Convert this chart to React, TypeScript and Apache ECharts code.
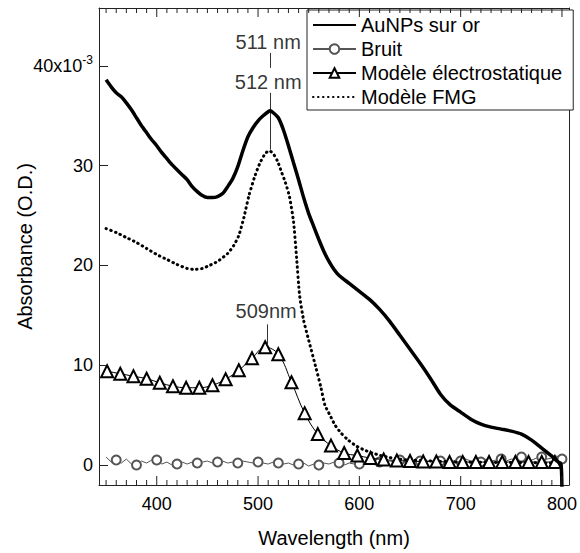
import React, { useEffect, useRef } from 'react';
import * as echarts from 'echarts';

const FONT = '"Liberation Sans", Arial, Helvetica, sans-serif';
const AXIS_COLOR = '#222';

// Tick values
const xMajorTicks = [400, 500, 600, 700, 800];
const xMinorTicks = [350, 360, 370, 380, 390, 410, 420, 430, 440, 450, 460, 470, 480, 490, 510, 520, 530, 540, 550, 560, 570, 580, 590, 610, 620, 630, 640, 650, 660, 670, 680, 690, 710, 720, 730, 740, 750, 760, 770, 780, 790];
const yTicks = [0, 10, 20, 30, 40];

// AuNPs sur or (x 10^-3)
const auWavelength = [350, 355, 360, 365, 370, 375, 380, 385, 390, 395, 400, 405, 410, 415, 420, 425, 430, 435, 440, 445, 450, 455, 460, 465, 470, 475, 480, 485, 490, 495, 500, 505, 510, 512, 515, 520, 525, 530, 535, 540, 545, 550, 555, 560, 565, 570, 575, 580, 590, 600, 610, 620, 630, 640, 650, 660, 670, 680, 690, 700, 710, 720, 730, 740, 750, 760, 770, 780, 790, 795, 799, 800];
const auAbsorbance = [38.6, 37.9, 37.3, 36.9, 36.3, 35.6, 34.8, 34.0, 33.3, 32.6, 32.0, 31.3, 30.7, 30.1, 29.6, 29.1, 28.6, 27.9, 27.4, 27.0, 26.8, 26.8, 26.9, 27.2, 27.9, 28.7, 29.9, 31.5, 32.9, 33.8, 34.5, 35.0, 35.4, 35.5, 35.3, 34.8, 33.6, 32.0, 30.3, 28.6, 26.8, 25.2, 23.9, 22.6, 21.4, 20.4, 19.6, 19.0, 18.2, 17.4, 16.6, 15.6, 14.4, 13.0, 11.6, 10.2, 8.7, 7.1, 6.0, 5.3, 4.6, 4.1, 3.8, 3.6, 3.4, 3.1, 2.5, 1.7, 0.9, 0.4, 0.1, -3];

// Bruit
const noiseWavelength = [350, 355, 360, 365, 370, 375, 380, 385, 390, 395, 400, 405, 410, 415, 420, 425, 430, 435, 440, 445, 450, 455, 460, 465, 470, 475, 480, 485, 490, 495, 500, 505, 510, 515, 520, 525, 530, 535, 540, 545, 550, 555, 560, 565, 570, 575, 580, 585, 590, 595, 600, 605, 610, 615, 620, 625, 630, 635, 640, 645, 650, 655, 660, 665, 670, 675, 680, 685, 690, 695, 700, 705, 710, 715, 720, 725, 730, 735, 740, 745, 750, 755, 760, 765, 770, 775, 780, 785, 790, 795, 800];
const noiseAbsorbance = [0.8, 0.3, 0.5, 0.2, 0.6, 0.1, 0.0, 0.4, 0.2, 0.5, 0.5, 0.1, 0.3, 0.0, 0.1, 0.3, 0.1, 0.3, 0.2, 0.3, 0.4, 0.2, 0.3, 0.4, 0.2, 0.3, 0.2, 0.4, 0.3, 0.2, 0.3, 0.2, 0.1, 0.3, 0.2, 0.1, 0.2, 0.0, 0.1, 0.2, -0.1, 0.1, 0.0, 0.2, 0.1, 0.3, 0.2, 0.0, 0.2, 0.1, 0.1, 0.3, 0.2, 0.4, 0.3, 0.2, 0.4, 0.3, 0.5, 0.3, 0.4, 0.2, 0.4, 0.3, 0.5, 0.3, 0.4, 0.5, 0.3, 0.5, 0.4, 0.6, 0.4, 0.5, 0.3, 0.6, 0.4, 0.5, 0.6, 0.4, 0.6, 0.5, 0.8, 0.6, 0.5, 0.7, 0.8, 0.6, 0.7, 0.9, 0.6];

// Modèle électrostatique
const esWavelength = [351, 364, 377, 390, 403, 416, 429, 442, 455, 468, 481, 494, 507, 520, 533, 546, 559, 572, 585, 598, 611, 624, 637, 650, 663, 676, 689, 702, 715, 728, 741, 754, 767, 780, 793];
const esAbsorbance = [9.4, 9.15, 8.9, 8.65, 8.25, 7.9, 7.75, 7.75, 8.0, 8.6, 9.5, 10.7, 11.8, 11.1, 8.3, 5.2, 3.1, 1.95, 1.2, 0.95, 0.7, 0.55, 0.45, 0.4, 0.35, 0.35, 0.3, 0.3, 0.3, 0.3, 0.3, 0.3, 0.3, 0.3, 0.3];

// Modèle FMG
const fmgWavelength = [350, 360, 370, 380, 390, 400, 410, 420, 430, 437, 445, 452, 460, 470, 476, 481, 486, 491, 497, 502, 507, 511, 515, 519, 523, 527, 531, 535, 538, 541, 545, 550, 557, 562, 566, 571, 576, 582, 589, 597, 605, 613, 621, 630, 638, 650, 670, 700, 750, 800];
const fmgAbsorbance = [23.7, 23.3, 22.8, 22.3, 21.7, 21.1, 20.6, 20.1, 19.7, 19.6, 19.7, 20.0, 20.4, 21.2, 22.0, 23.0, 24.8, 27.0, 29.0, 30.3, 31.2, 31.5, 31.2, 30.5, 29.4, 28.3, 26.9, 24.4, 20.8, 17.0, 14.5, 12.5, 9.8, 7.8, 6.0, 5.0, 4.0, 3.2, 2.5, 1.9, 1.5, 1.2, 0.95, 0.75, 0.6, 0.5, 0.4, 0.3, 0.25, 0.2];

// Peak annotations
const annoText = ['511 nm', '512 nm', '509nm'];
const annoX = [510, 510, 508];
const annoY = [42.4, 38.4, 15.4];
const annoLineX = [512, 512, 509];
const annoLineFrom = [41.3, 37.3, 14.1];
const annoLineTo = [39.8, 31.6, 12.0];

const seriesNames = ['AuNPs sur or', 'Bruit', 'Modèle électrostatique', 'Modèle FMG'];

const X_MIN = 343;
const X_MAX = 807;
const Y_MIN = -2;
const Y_MAX = 45.8;

const zip = (xs: number[], ys: number[]) => xs.map((x, i) => [x, ys[i]]);

const tickLine = { color: AXIS_COLOR, width: 1 };

export default function App() {
  const ref = useRef<HTMLDivElement>(null);
  useEffect(() => {
    const chart = echarts.init(ref.current!, null, { renderer: 'svg' });
    const option: any = {
      animation: false,
      backgroundColor: '#fff',
      textStyle: { fontFamily: FONT },
      grid: { left: 99, right: 7, top: 8, bottom: 65, containLabel: false },
      legend: {
        data: seriesNames,
        orient: 'vertical',
        left: 307,
        top: 10,
        padding: [5, 11, 3, 5],
        itemGap: 4,
        itemWidth: 43,
        itemHeight: 12,
        backgroundColor: '#fff',
        borderColor: AXIS_COLOR,
        borderWidth: 1,
        borderRadius: 0,
        textStyle: { fontSize: 20, color: '#000', fontFamily: FONT },
        selectedMode: false,
      },
      xAxis: [
        {
          type: 'value',
          position: 'bottom',
          min: X_MIN,
          max: X_MAX,
          axisLine: { show: true, onZero: false, lineStyle: tickLine },
          axisTick: { show: false },
          axisLabel: { show: true, customValues: xMajorTicks, fontSize: 18, color: '#000', margin: 10, fontFamily: FONT },
          splitLine: { show: false },
          name: 'Wavelength (nm)',
          nameLocation: 'middle',
          nameGap: 43,
          nameMoveOverlap: false,
          nameTextStyle: { fontSize: 20, color: '#000', fontFamily: FONT },
        },
        {
          type: 'value',
          position: 'top',
          min: X_MIN,
          max: X_MAX,
          axisLine: { show: true, onZero: false, lineStyle: tickLine },
          axisTick: { show: false },
          axisLabel: { show: false },
          splitLine: { show: false },
        },
      ],
      yAxis: [
        {
          type: 'value',
          position: 'left',
          min: Y_MIN,
          max: Y_MAX,
          axisLine: { show: true, onZero: false, lineStyle: tickLine },
          axisTick: { show: true, inside: true, length: 9, customValues: yTicks, lineStyle: tickLine },
          axisLabel: {
            show: true,
            customValues: yTicks,
            fontSize: 18,
            color: '#000',
            margin: 6,
            fontFamily: FONT,
            formatter: (v: number) => (v === 40 ? '{b|40x10}{s|-3}' : String(v)),
            rich: {
              b: { fontSize: 18, color: '#000', fontFamily: FONT },
              s: { fontSize: 12, color: '#000', fontFamily: FONT, padding: [0, 0, 12, 0] },
            },
          },
          splitLine: { show: false },
          name: 'Absorbance (O.D.)',
          nameLocation: 'middle',
          nameRotate: 90,
          nameGap: 64,
          nameMoveOverlap: false,
          nameTextStyle: { fontSize: 20, color: '#000', fontFamily: FONT },
        },
        {
          type: 'value',
          position: 'right',
          min: Y_MIN,
          max: Y_MAX,
          axisLine: { show: true, onZero: false, lineStyle: tickLine },
          axisTick: { show: false },
          axisLabel: { show: false },
          splitLine: { show: false },
        },
      ],
      series: [
        {
          name: 'Bruit',
          type: 'line',
          data: zip(noiseWavelength, noiseAbsorbance),
          symbol: 'emptyCircle',
          showAllSymbol: true,
          symbolSize: (_v: any, p: any) => (p.dataIndex % 4 === 2 ? 9 : 0),
          lineStyle: { color: '#555', width: 1 },
          itemStyle: { color: '#555', borderWidth: 1.3 },
          z: 2,
        },
        {
          name: 'Modèle FMG',
          type: 'line',
          data: zip(fmgWavelength, fmgAbsorbance),
          symbol: 'none',
          smooth: 0.2,
          lineStyle: { color: '#000', width: 3, type: [0.5, 4.5], cap: 'round' },
          itemStyle: { color: 'rgba(0,0,0,0)' },
          z: 3,
        },
        {
          name: 'Modèle électrostatique',
          type: 'line',
          data: zip(esWavelength, esAbsorbance),
          symbol: 'emptyTriangle',
          symbolSize: 12,
          showAllSymbol: true,
          smooth: 0.4,
          lineStyle: { color: '#000', width: 1 },
          itemStyle: { color: '#000', borderWidth: 1.6 },
          z: 4,
        },
        {
          name: 'AuNPs sur or',
          type: 'line',
          data: zip(auWavelength, auAbsorbance),
          symbol: 'none',
          smooth: 0.2,
          lineStyle: { color: '#000', width: 3.5 },
          itemStyle: { color: 'rgba(0,0,0,0)' },
          z: 5,
        },
        {
          name: 'annotations',
          type: 'scatter',
          data: annoText.map((t, i) => ({ name: t, value: [annoX[i], annoY[i]] })),
          symbolSize: 1,
          itemStyle: { color: 'rgba(0,0,0,0)' },
          silent: true,
          label: {
            show: true,
            position: 'inside',
            formatter: (p: any) => p.name,
            fontSize: 20,
            color: '#000',
            fontFamily: FONT,
          },
          markLine: {
            silent: true,
            symbol: ['none', 'none'],
            label: { show: false },
            lineStyle: { color: '#333', width: 1, type: 'solid' },
            data: annoLineX.map((x, i) => [
              { coord: [x, annoLineFrom[i]] },
              { coord: [x, annoLineTo[i]] },
            ]),
          },
          z: 6,
        },
      ],
    };
    chart.setOption(option);

    // X ticks (bottom and mirrored top), placed through the axis scale
    const yTop = chart.convertToPixel({ yAxisIndex: 0 }, Y_MAX) as number;
    const yBottom = chart.convertToPixel({ yAxisIndex: 0 }, Y_MIN) as number;
    const tickEls: any[] = [];
    const addTick = (v: number, len: number) => {
      const x = chart.convertToPixel({ xAxisIndex: 0 }, v) as number;
      tickEls.push({ type: 'line', silent: true, z: 10, shape: { x1: x, y1: yBottom, x2: x, y2: yBottom - len }, style: { stroke: AXIS_COLOR, lineWidth: 1 } });
      tickEls.push({ type: 'line', silent: true, z: 10, shape: { x1: x, y1: yTop, x2: x, y2: yTop + len }, style: { stroke: AXIS_COLOR, lineWidth: 1 } });
    };
    xMajorTicks.forEach((v) => addTick(v, 9));
    xMinorTicks.forEach((v) => addTick(v, 5));
    chart.setOption({ graphic: { elements: tickEls } });

    return () => chart.dispose();
  }, []);
  return (
    <div
      ref={ref}
      style={{ position: 'fixed', left: 0, top: 0, width: 580, height: 553, background: '#fff' }}
    />
  );
}
